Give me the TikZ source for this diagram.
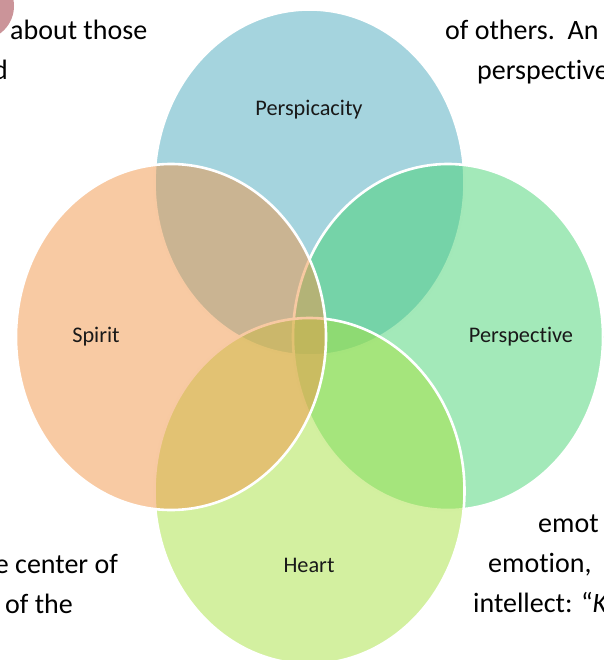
\documentclass[tikz,border=0pt]{standalone}
\usepackage{fontspec}
\setmainfont{Carlito}[Ligatures={NoCommon}]
\usetikzlibrary{shapes.geometric}
\definecolor{cTop}{RGB}{75,169,189}
\definecolor{cLeft}{RGB}{241,149,71}
\definecolor{cRight}{RGB}{71,211,115}
\definecolor{cBottom}{RGB}{167,225,65}
\definecolor{cPink}{RGB}{203,148,153}
\definecolor{cLabel}{RGB}{25,25,25}
\tikzset{
  venn/.style={ellipse, inner sep=0pt, outer sep=0pt, minimum width=310pt, minimum height=346pt,
    fill=#1, fill opacity=0.5, draw=white, line width=2.6pt},
  vlabel/.style={text=cLabel, font=\fontsize{22.3}{26}\selectfont, inner sep=0pt},
  body/.style={text=black, font=\fontsize{28}{34}\selectfont, inner sep=0pt}
}
\begin{document}
\begin{tikzpicture}[x=1pt,y=-1pt]
\useasboundingbox (0,0) rectangle (603,660);
\clip (0,0) rectangle (603,660);
% surrounding text fragments
\fill[cPink] (-20,6) circle[radius=34pt];
\node[body, anchor=base west] (t1) at (10,40) {about those};
\node[body, anchor=base east] (t2) at (8,80) {d};
\node[body, anchor=base west] (t3) at (445,40) {of others.\ \ An};
\node[body, anchor=base west] (t4) at (477,80) {perspective};
\node[body, anchor=base east] (t5) at (118,573) {e center of};
\node[body, anchor=base west] (t6) at (5,613) {of the};
\node[body, anchor=base west] (t7) at (538,532) {emot};
\node[body, anchor=base west] (t8) at (488,572) {emotion,};
\node[body, anchor=base west] (t9) at (473,612) {intellect: “\textit{K}};
% Venn ellipses
\node[venn=cTop] (top) at (309.5,182.5) {};
\node[venn=cRight] (right) at (448,337) {};
\node[venn=cBottom] (bottom) at (309.5,491) {};
\node[venn=cLeft] (left) at (171,337) {};
% labels
\node[vlabel] (ltop) at (309,110) {Perspicacity};
\node[vlabel] (lleft) at (96,337) {Spirit};
\node[vlabel] (lright) at (521,337) {Perspective};
\node[vlabel] (lbottom) at (309,565) {Heart};
\end{tikzpicture}
\end{document}
